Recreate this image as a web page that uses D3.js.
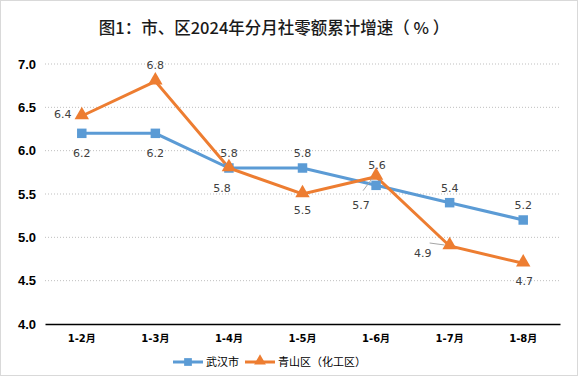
<!DOCTYPE html>
<html>
<head>
<meta charset="utf-8">
<script src="https://cdn.jsdelivr.net/npm/d3@7"></script>
<style>
  body { margin: 0; background: #fff; }
  svg { display: block; font-family: "DejaVu Sans", sans-serif; }
</style>
</head>
<body>
<div id="chart"></div>
<script>
// Data
const categories = ["1-2月", "1-3月", "1-4月", "1-5月", "1-6月", "1-7月", "1-8月"];
const wuhan = [6.2, 6.2, 5.8, 5.8, 5.6, 5.4, 5.2];
const qingshan = [6.4, 6.8, 5.8, 5.5, 5.7, 4.9, 4.7];
const yTicks = [4.0, 4.5, 5.0, 5.5, 6.0, 6.5, 7.0];
const seriesNames = ["武汉市", "青山区（化工区）"];
// label text as shown in the chart
const wuhanLabels = ["6.2", "6.2", "5.8", "5.8", "5.6", "5.4", "5.2"];
const qingshanLabels = ["6.4", "6.8", "5.8", "5.5", "5.7", "4.9", "4.7"];

// label offsets (px) relative to the point
const wuhanOffsets = [[0, 20], [0, 20], [0, -15], [0, -15], [1, -20], [0, -15], [0, -15]];
const qingshanOffsets = [[-19, -2], [0, -16], [-7, 20], [0, 16], [-15, 28], [-27, 7], [1, 18]];

const width = 578, height = 376;
const margin = { top: 64, right: 18, bottom: 52, left: 45 };
const innerWidth = width - margin.left - margin.right;
const innerHeight = height - margin.top - margin.bottom;

const svg = d3.select("#chart").append("svg")
    .attr("width", width)
    .attr("height", height);

// outer border
svg.append("rect")
    .attr("x", 0.5).attr("y", 0.5)
    .attr("width", width - 1).attr("height", height - 1)
    .attr("fill", "#fff")
    .attr("stroke", "#d9d9d9");

// title
svg.append("text")
    .attr("x", 274)
    .attr("y", 34)
    .attr("text-anchor", "middle")
    .style("font-family", "'Noto Sans CJK SC', sans-serif")
    .style("font-size", "16.5px")
    .style("font-weight", "500")
    .style("fill", "#1a1a1a")
    .text("图1：市、区2024年分月社零额累计增速（ % ）");

const x = d3.scaleBand().domain(categories).range([0, innerWidth]);
const y = d3.scaleLinear().domain([4, 7]).range([innerHeight, 0]);

const g = svg.append("g").attr("transform", `translate(${margin.left},${margin.top})`);

// gridlines
g.append("g")
    .selectAll("line")
    .data(yTicks.filter(d => d > 4))
    .join("line")
    .attr("x1", 0).attr("x2", innerWidth)
    .attr("y1", d => y(d)).attr("y2", d => y(d))
    .attr("stroke", "#bfbfbf")
    .attr("stroke-width", 1)
    .attr("stroke-dasharray", "1,2");

// y axis
const yAxis = d3.axisLeft(y).tickValues(yTicks).tickFormat(d3.format(".1f")).tickSize(0).tickPadding(9);
g.append("g")
    .call(yAxis)
    .call(a => a.select(".domain").remove())
    .selectAll("text")
    .style("font-size", "13px")
    .style("font-weight", "bold")
    .style("fill", "#000");

// x axis
const xAxis = d3.axisBottom(x).tickSize(0).tickPadding(11);
g.append("g")
    .attr("transform", `translate(0,${innerHeight})`)
    .call(xAxis)
    .call(a => a.select(".domain").attr("stroke", "#000").attr("stroke-width", 1.5))
    .selectAll("text")
    .style("font-family", "'DejaVu Sans', 'Noto Sans CJK SC', sans-serif")
    .style("font-size", "10px")
    .style("font-weight", "bold")
    .style("fill", "#000");

const cx = (d, i) => x(categories[i]) + x.bandwidth() / 2;
const line = d3.line().x(cx).y(d => y(d));

const blue = "#5B9BD5", orange = "#ED7D31";

// series lines
g.append("path").datum(wuhan)
    .attr("fill", "none").attr("stroke", blue).attr("stroke-width", 3)
    .attr("d", line);
g.append("path").datum(qingshan)
    .attr("fill", "none").attr("stroke", orange).attr("stroke-width", 3)
    .attr("d", line);

// markers
const sq = d3.symbol().type(d3.symbolSquare).size(90);
const tri = d3.symbol().type(d3.symbolTriangle).size(90);

g.append("g").selectAll("path")
    .data(wuhan)
    .join("path")
    .attr("d", sq)
    .attr("transform", (d, i) => `translate(${cx(d, i)},${y(d)})`)
    .attr("fill", blue);

g.append("g").selectAll("path")
    .data(qingshan)
    .join("path")
    .attr("d", tri)
    .attr("transform", (d, i) => `translate(${cx(d, i)},${y(d) - 1})`)
    .attr("fill", orange);

// leader lines for 4.9 and 5.7
const leader = (i, x1, y1, x2, y2) => g.append("line")
    .attr("x1", cx(qingshan[i], i) + x1).attr("y1", y(qingshan[i]) + y1)
    .attr("x2", cx(qingshan[i], i) + x2).attr("y2", y(qingshan[i]) + y2)
    .attr("stroke", "#a6a6a6").attr("stroke-width", 1);
leader(5, -20, -3, -5, -1);
leader(4, -13, 14, -4, 2);

// data labels
function labels(values, texts, offsets) {
    g.append("g").selectAll("text")
        .data(values)
        .join("text")
        .attr("x", (d, i) => cx(d, i) + offsets[i][0])
        .attr("y", (d, i) => y(d) + offsets[i][1])
        .attr("text-anchor", "middle")
        .attr("dy", "0.35em")
        .style("font-size", "11px")
        .style("fill", "#404040")
        .text((d, i) => texts[i]);
}
labels(wuhan, wuhanLabels, wuhanOffsets);
labels(qingshan, qingshanLabels, qingshanOffsets);

// legend
const legend = svg.append("g").attr("transform", "translate(0,362)");
const items = [
    { name: seriesNames[0], color: blue, type: d3.symbolSquare, x: 173 },
    { name: seriesNames[1], color: orange, type: d3.symbolTriangle, x: 245 }
];
items.forEach(it => {
    legend.append("line")
        .attr("x1", it.x).attr("x2", it.x + 30)
        .attr("stroke", it.color).attr("stroke-width", 3);
    legend.append("path")
        .attr("d", d3.symbol().type(it.type).size(60))
        .attr("transform", `translate(${it.x + 15},${it.type === d3.symbolSquare ? 0 : -1})`)
        .attr("fill", it.color);
    legend.append("text")
        .attr("x", it.x + 33)
        .attr("dy", "0.35em")
        .style("font-family", "'Noto Sans CJK SC', sans-serif")
        .style("font-size", "11px")
        .style("fill", "#000")
        .text(it.name);
});
</script>
</body>
</html>
